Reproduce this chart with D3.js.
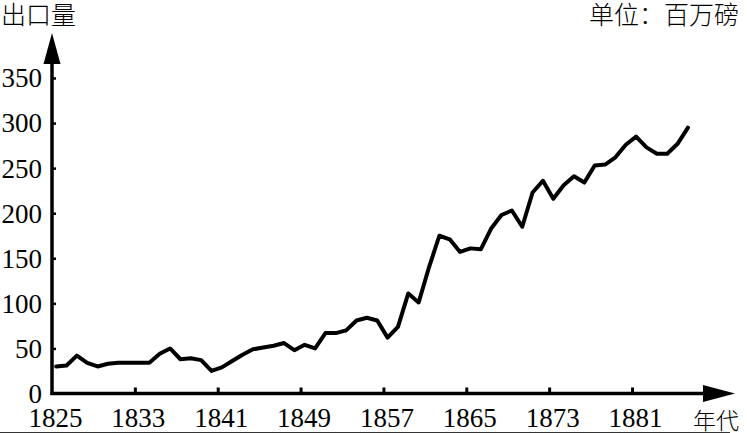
<!DOCTYPE html>
<html>
<head>
<meta charset="utf-8">
<script src="https://cdn.jsdelivr.net/npm/d3@7"></script>
<style>
  html, body { margin: 0; padding: 0; background: #fff; }
  svg { display: block; }
</style>
</head>
<body>
<svg id="chart" width="747" height="433"></svg>
<script>
// ---- data ----
const years = [1825,1826,1827,1828,1829,1830,1831,1832,1833,1834,1835,1836,1837,1838,1839,1840,
  1841,1842,1843,1844,1845,1846,1847,1848,1849,1850,1851,1852,1853,1854,1855,1856,1857,1858,1859,1860,
  1861,1862,1863,1864,1865,1866,1867,1868,1869,1870,1871,1872,1873,1874,1875,1876,1877,1878,1879,1880,
  1881,1882,1883,1884,1885,1886];
const exportsValues = [30,31,42,34,30,33,34,34,34,34,44,50,38,39,37,25,
  29,36,43,49,51,53,56,48,54,50,67,67,70,81,84,81,62,74,111,101,
  140,175,171,157,161,160,183,198,203,185,223,236,216,231,241,234,253,254,262,276,
  285,273,266,266,277,295];
const xTickValues = [1825,1833,1841,1849,1857,1865,1873,1881];
const yTickValues = [0,50,100,150,200,250,300,350];
const yTitle = "出口量";
const unitLabel = "单位：百万磅";
const xTitle = "年代";

// ---- drawing ----
const svg = d3.select("#chart");
const x = d3.scaleLinear().domain([1825, 1881]).range([52, 632]);
const y = d3.scaleLinear().domain([0, 350]).range([393.5, 78]);
const lineShift = 0.4; // data plotted slightly right of tick, as in reference

const serifFont = "Liberation Serif, Times New Roman, DejaVu Serif, serif";
const cjkFont = "Noto Sans CJK SC, Noto Sans CJK JP, sans-serif";

// x axis
const xAxis = d3.axisBottom(x).tickValues(xTickValues).tickFormat(d3.format("d"))
  .tickSizeInner(-6).tickSizeOuter(0).tickPadding(14);
const gx = svg.append("g").attr("transform", `translate(0,${y(0)})`).call(xAxis);
gx.attr("font-family", serifFont).attr("font-size", 27);
gx.select(".domain").remove();
gx.selectAll(".tick line").attr("stroke", "#000").attr("stroke-width", 3);
gx.selectAll(".tick").filter(d => d === 1825).select("line").remove();
gx.selectAll(".tick text").style("font-family", serifFont).style("font-size", "27px")
  .attr("fill", "#000").attr("dx", 3);

// y axis
const yAxis = d3.axisLeft(y).tickValues(yTickValues)
  .tickSizeInner(-4).tickSizeOuter(0).tickPadding(10);
const gy = svg.append("g").attr("transform", `translate(${x(1825)},0)`).call(yAxis);
gy.attr("font-family", serifFont).attr("font-size", 27);
gy.select(".domain").remove();
gy.selectAll(".tick line").attr("stroke", "#000").attr("stroke-width", 2.5);
gy.selectAll(".tick").filter(d => d === 0).select("line").remove();
gy.selectAll(".tick text").style("font-family", serifFont).style("font-size", "27px")
  .attr("fill", "#000").attr("dy", "0.33em");

// axis lines with arrows
const ox = x(1825), oy = y(0);
svg.append("line").attr("x1", ox).attr("y1", oy + 1.5).attr("x2", ox).attr("y2", 40)
  .attr("stroke", "#000").attr("stroke-width", 3.5);
svg.append("path").attr("d", `M${ox},33 L${ox - 8.5},64 L${ox + 8.5},64 Z`).attr("fill", "#000");
svg.append("line").attr("x1", ox - 1.5).attr("y1", oy).attr("x2", 725).attr("y2", oy)
  .attr("stroke", "#000").attr("stroke-width", 3.5);
svg.append("path").attr("d", `M735,${oy} L703,${oy - 8.5} L703,${oy + 8.5} Z`).attr("fill", "#000");

// data line
const data = years.map((yr, i) => ({ yr, v: exportsValues[i] }));
const line = d3.line().x(d => x(d.yr + lineShift)).y(d => y(d.v));
svg.append("path").datum(data).attr("d", line)
  .attr("fill", "none").attr("stroke", "#000").attr("stroke-width", 4)
  .attr("stroke-linejoin", "round").attr("stroke-linecap", "round");

// titles
function title(txt, xp, yp, size, anchor) {
  svg.append("text").attr("x", xp).attr("y", yp).attr("text-anchor", anchor)
    .style("font-family", cjkFont).style("font-size", size + "px").style("font-weight", 300)
    .attr("fill", "#000").text(txt);
}
title(yTitle, 1, 24, 25, "start");
title(unitLabel, 739, 24, 25, "end");
title(xTitle, 739, 429, 23, "end");

// thin bottom rule seen in the reference
svg.append("line").attr("x1", 0).attr("x2", 730).attr("y1", 432.5).attr("y2", 432.5)
  .attr("stroke", "#333").attr("stroke-width", 1);
</script>
</body>
</html>
